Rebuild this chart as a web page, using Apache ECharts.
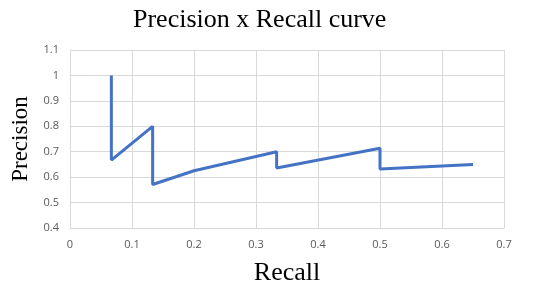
<!DOCTYPE html>
<html><head><meta charset="utf-8">
<script src="https://cdn.jsdelivr.net/npm/echarts@6/dist/echarts.min.js"></script>
<style>html,body{margin:0;padding:0;background:#fff}#c{width:540px;height:285px}</style>
</head><body><div id="c"></div>
<script>
const recall = [0.0667, 0.0667, 0.1333, 0.1333, 0.2, 0.3333, 0.3333, 0.5, 0.5, 0.65];
const precision = [1.0, 0.667, 0.8, 0.571, 0.625, 0.7, 0.636, 0.714, 0.632, 0.65];
const chart = echarts.init(document.getElementById('c'));
const serif = '"Liberation Serif", "DejaVu Serif", serif';
const gridColor = '#d9d9d9';
chart.setOption({
  animation: false,
  title: {text: 'Precision x Recall curve', left: 128, top: 2,
    textStyle: {fontFamily: serif, fontWeight: 'normal', fontSize: 26, color: '#000'}},
  grid: {left: 70, right: 36, top: 50, bottom: 57, outerBoundsMode: 'none', containLabel: false},
  xAxis: {type: 'value', min: 0, max: 0.7, interval: 0.1,
    name: 'Recall', nameLocation: 'middle', nameGap: 32,
    nameTextStyle: {fontFamily: serif, fontSize: 26, color: '#000'},
    axisLine: {show: true, lineStyle: {color: gridColor}}, axisTick: {show: false},
    axisLabel: {color: '#595959', fontSize: 11, margin: 11, fontFamily: 'Open Sans, sans-serif',
      formatter: v => String(+v.toFixed(1))},
    splitLine: {show: true, lineStyle: {color: gridColor, width: 1}}},
  yAxis: {type: 'value', min: 0.4, max: 1.1, interval: 0.1,
    name: 'Precision', nameLocation: 'middle', nameGap: 35,
    nameTextStyle: {fontFamily: serif, fontSize: 23, color: '#000'},
    axisLine: {show: true, lineStyle: {color: gridColor}}, axisTick: {show: false},
    axisLabel: {color: '#595959', fontSize: 11, margin: 11, fontFamily: 'Open Sans, sans-serif',
      formatter: v => String(+v.toFixed(1))},
    splitLine: {show: true, lineStyle: {color: gridColor, width: 1}}},
  series: [{type: 'line', data: recall.map((r, i) => [r, precision[i]]),
    showSymbol: false, lineStyle: {color: '#4472C4', width: 3}, itemStyle: {color: '#4472C4'}}]
});
</script></body></html>
